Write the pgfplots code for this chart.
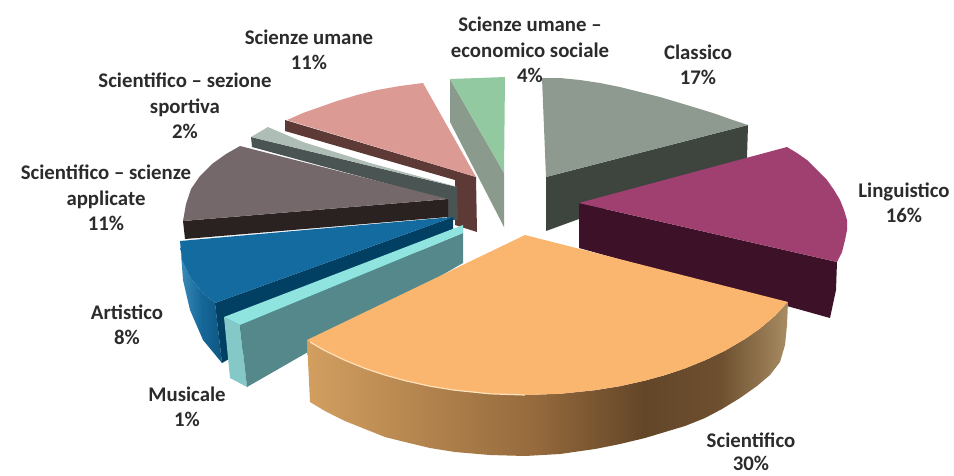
\documentclass[border=0pt]{standalone}
\usepackage{fontspec}
\setmainfont{Carlito}
\usepackage{pgfplots}
\pgfplotsset{compat=1.18}

\definecolor{labeltxt}{HTML}{2B2B2B}
\definecolor{sciA}{HTML}{D29F60}
\definecolor{sciB}{HTML}{94693C}
\definecolor{sciC}{HTML}{634628}
\definecolor{sciD}{HTML}{6E5030}
\definecolor{sciE}{HTML}{A88C62}
\definecolor{blueA}{HTML}{3C8CB8}
\definecolor{blueB}{HTML}{16689A}
\definecolor{blueC}{HTML}{0D5680}
% outer wall gradients (path bbox is mapped on 25bp..75bp)
\pgfdeclarehorizontalshading{sciwall}{100bp}{
  color(0bp)=(sciA); color(25bp)=(sciA); color(49bp)=(sciB); color(60bp)=(sciC); color(68bp)=(sciD);
  color(75bp)=(sciE); color(100bp)=(sciE)}
\pgfdeclarehorizontalshading{bluewall}{100bp}{
  color(0bp)=(blueA); color(25bp)=(blueA); color(50bp)=(blueB); color(75bp)=(blueC); color(100bp)=(blueC)}

\begin{document}
\begin{tikzpicture}
\begin{axis}[
  scale only axis, width=954pt, height=475pt,
  xmin=0, xmax=954, ymin=0, ymax=475, y dir=reverse,
  hide axis, clip=false,
  nodes={font=\fontsize{20.8}{25.5}\selectfont\bfseries, text=labeltxt, align=center, inner sep=0pt},
]
% hide axis drops the axis box from the bounding box, so keep the page size
\path (axis cs:0,0) rectangle (axis cs:954,475);
% Classico
\addplot[fill={rgb,255:red,62;green,69;blue,63}, draw=none] coordinates {(546,177) (748,125) (747,158) (546,231)};
\addplot[fill={rgb,255:red,142;green,154;blue,143}, draw=none] coordinates {(542,78) (560,78) (580,80) (600,83) (620,87) (640,92) (660,97) (680,103) (700,109) (716,114) (730,119) (748,125) (546,177)};
% Scienze umane - economico sociale
\addplot[fill={rgb,255:red,138;green,154;blue,140}, draw=none] coordinates {(450,79) (504,173) (504,227) (450,122)};
\addplot[fill={rgb,255:red,147;green,201;blue,160}, draw=none] coordinates {(450,79) (505,77) (504,173)};
% Scienze umane
\addplot[fill={rgb,255:red,94;green,58;blue,54}, draw=none] coordinates {(285,120) (476,177) (477,232) (455,225) (455,180) (285,131)};
\addplot[fill={rgb,255:red,220;green,154;blue,148}, draw=none] coordinates {(423,83) (400,86) (377,90) (357,95) (337,101) (320,107) (303,113) (287,120) (476,177)};
% Scientifico - sezione sportiva
\addplot[fill={rgb,255:red,74;green,84;blue,82}, draw=none] coordinates {(251,137) (457,187) (458,220) (447,220) (447,200) (252,147)};
\addplot[fill={rgb,255:red,174;green,189;blue,181}, draw=none] coordinates {(251,137) (268,127) (303,142) (370,163) (447,184) (457,187)};
% Scientifico - scienze applicate
\addplot[fill={rgb,255:red,42;green,34;blue,32}, draw=none] coordinates {(183,221) (448,199) (448,217) (185,239)};
\addplot[fill={rgb,255:red,117;green,104;blue,107}, draw=none] coordinates {(448,199) (240,146) (226,154) (212,164) (200,176) (191,189) (186,204) (183,221)};
% Artistico
\addplot[shading=bluewall, draw=none] coordinates {(180,241) (182,260) (190,277) (203,293) (215,303) (222,363) (203,340) (190,310) (183,280)};
\addplot[fill={rgb,255:red,1;green,63;blue,99}, draw=none] coordinates {(215,303) (453,217) (453,232) (222,363)};
\addplot[fill={rgb,255:red,19;green,107;blue,160}, draw=none] coordinates {(453,217) (180,241) (182,260) (190,277) (203,293) (215,303)};
% Musicale
\addplot[fill={rgb,255:red,132;green,200;blue,200}, draw=none] coordinates {(224,317) (240,325) (247,387) (230,378)};
\addplot[fill={rgb,255:red,84;green,136;blue,138}, draw=none] coordinates {(240,325) (463,233) (463,263) (247,387)};
\addplot[fill={rgb,255:red,143;green,228;blue,224}, draw=none] coordinates {(463,225) (224,317) (240,325) (463,233)};
% Linguistico
\addplot[fill={rgb,255:red,61;green,18;blue,40}, draw=none] coordinates {(579,203) (837,262) (836,290) (830,318) (579,248)};
\addplot[fill={rgb,255:red,160;green,64;blue,112}, draw=none] coordinates {(579,203) (787,147) (797,153) (807,160) (817,170) (827,180) (834,190) (840,200) (844,210) (847,220) (847,230) (845,240) (842,252) (837,262)};
% Scientifico
\addplot[shading=sciwall, draw=none] coordinates {(307,340) (325,350.7) (345,360.3) (365,368.4) (385,375.1) (405,380.6) (430,386.2) (455,390.2) (490,393.8) (525,395) (560,393.8) (595,390.2) (620,386.2) (645,380.6) (665,375.1) (685,368.4) (705,360.3) (725,350.7) (745,339) (760,328.5) (775,315.8) (788,302) (787,325) (785,345) (780,362) (770,375) (757,386) (740,398) (722,409) (705,418) (685,426) (665,432) (645,438) (620,444) (595,449) (560,454) (525,456) (490,455) (455,452) (430,448) (405,442) (385,437) (365,429) (345,421) (325,411) (310,402)};
\addplot[fill={rgb,255:red,250;green,181;blue,110}, draw=none] coordinates {(525,235) (788,302) (775,315.8) (760,328.5) (745,339) (725,350.7) (705,360.3) (685,368.4) (665,375.1) (645,380.6) (620,386.2) (595,390.2) (560,393.8) (525,395) (490,393.8) (455,390.2) (430,386.2) (405,380.6) (385,375.1) (365,368.4) (345,360.3) (325,350.7) (307,340)};
\addplot[draw={rgb,255:red,255;green,226;blue,185}, line width=1.2pt] coordinates {(310,342) (325,350.7) (345,360.3) (365,368.4) (385,375.1) (405,380.6) (430,386.2) (455,390.2) (490,393.8) (525,395)};
% labels
\node at (axis cs:530,50) {Scienze umane --\\economico sociale\\4\%};
\node at (axis cs:698,65) {Classico\\17\%};
\node at (axis cs:904,203) {Linguistico\\16\%};
\node at (axis cs:751,452) {Scientifico\\[-3pt]30\%};
\node at (axis cs:187,407) {Musicale\\1\%};
\node at (axis cs:127,325) {Artistico\\8\%};
\node at (axis cs:106,198) {Scientifico -- scienze\\applicate\\11\%};
\node at (axis cs:185,106) {Scientifico -- sezione\\sportiva\\2\%};
\node at (axis cs:309,50) {Scienze umane\\11\%};
\end{axis}
\end{tikzpicture}
\end{document}
